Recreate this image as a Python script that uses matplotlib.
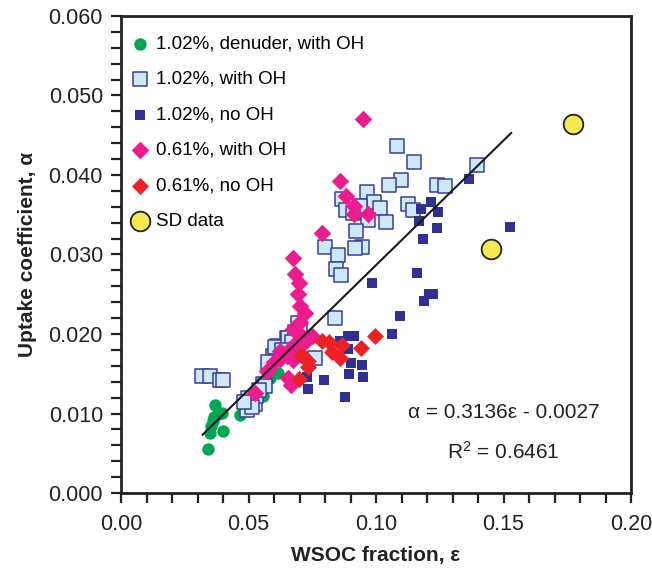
import matplotlib
matplotlib.use("Agg")
import matplotlib.pyplot as plt
from matplotlib.ticker import MultipleLocator, FormatStrFormatter

plt.rcParams["font.family"] = ["Liberation Sans", "DejaVu Sans"]
plt.rcParams["mathtext.default"] = "regular"

# 1.02%, denuder, with OH
den_x = [0.0369, 0.0395, 0.0365, 0.0353, 0.0401, 0.0349, 0.0340, 0.0467,
         0.0558, 0.0584, 0.0617, 0.0380, 0.0360]
den_y = [0.0111, 0.0101, 0.0095, 0.0084, 0.0078, 0.0075, 0.0055, 0.0098,
         0.0122, 0.0145, 0.0151, 0.0100, 0.0090]

# 1.02%, with OH
hi_oh_x = [0.0316, 0.0349, 0.0388, 0.0401, 0.0499, 0.0506, 0.0525, 0.0493,
           0.0558, 0.0597, 0.0611, 0.0650, 0.1084, 0.1149, 0.1098, 0.1050,
           0.1238, 0.1272, 0.1397, 0.0966, 0.0865, 0.0993, 0.1016, 0.0937,
           0.0881, 0.0911, 0.0967, 0.1038, 0.1127, 0.1144, 0.0922, 0.0801,
           0.0946, 0.0916, 0.0850, 0.0844, 0.0862, 0.0695, 0.0839, 0.0761,
           0.0604, 0.0565, 0.0656, 0.0702, 0.0682, 0.0670, 0.0528, 0.0540,
           0.0575, 0.0630, 0.0515, 0.0482]
hi_oh_y = [0.0147, 0.0147, 0.0142, 0.0142, 0.0120, 0.0112, 0.0112, 0.0105,
           0.0137, 0.0172, 0.0185, 0.0195, 0.0436, 0.0416, 0.0394, 0.0387,
           0.0388, 0.0386, 0.0413, 0.0379, 0.0370, 0.0366, 0.0359, 0.0361,
           0.0356, 0.0352, 0.0344, 0.0341, 0.0364, 0.0356, 0.0330, 0.0310,
           0.0310, 0.0308, 0.0299, 0.0282, 0.0274, 0.0214, 0.0220, 0.0170,
           0.0184, 0.0135, 0.0195, 0.0204, 0.0203, 0.0190, 0.0122, 0.0130,
           0.0165, 0.0180, 0.0108, 0.0115]

# 1.02%, no OH
hi_no_x = [0.1365, 0.1216, 0.1176, 0.1244, 0.1169, 0.1238, 0.1183, 0.1525,
           0.1161, 0.1225, 0.1209, 0.1187, 0.1094, 0.1062, 0.0983, 0.0891,
           0.0915, 0.0891, 0.0901, 0.0944, 0.0894, 0.0950, 0.0728, 0.0796,
           0.0735, 0.0878, 0.0859]
hi_no_y = [0.0395, 0.0366, 0.0357, 0.0354, 0.0342, 0.0333, 0.0319, 0.0335,
           0.0277, 0.0250, 0.0250, 0.0241, 0.0223, 0.0200, 0.0264, 0.0198,
           0.0198, 0.0181, 0.0164, 0.0161, 0.0150, 0.0146, 0.0146, 0.0142,
           0.0131, 0.0121, 0.0191]

# 0.61%, with OH
lo_oh_x = [0.0948, 0.0859, 0.0881, 0.0915, 0.0915, 0.0970, 0.0787, 0.0676,
           0.0682, 0.0698, 0.0693, 0.0702, 0.0722, 0.0676, 0.0709, 0.0748,
           0.0663, 0.0689, 0.0571, 0.0656, 0.0667, 0.0624, 0.0702, 0.0624,
           0.0650, 0.0676, 0.0525, 0.0578, 0.0683, 0.0720, 0.0600]
lo_oh_y = [0.0470, 0.0393, 0.0373, 0.0361, 0.0351, 0.0351, 0.0327, 0.0295,
           0.0275, 0.0264, 0.0250, 0.0235, 0.0227, 0.0206, 0.0197, 0.0197,
           0.0181, 0.0172, 0.0153, 0.0145, 0.0136, 0.0168, 0.0215, 0.0179,
           0.0172, 0.0167, 0.0126, 0.0154, 0.0187, 0.0190, 0.0165]

# 0.61%, no OH
lo_no_x = [0.0787, 0.0816, 0.0866, 0.0941, 0.0996, 0.0826, 0.0859, 0.0713,
           0.0735, 0.0735, 0.0698, 0.0706]
lo_no_y = [0.0191, 0.0190, 0.0186, 0.0182, 0.0197, 0.0177, 0.0170, 0.0172,
           0.0166, 0.0158, 0.0143, 0.0174]

# SD data
sd_x = [0.1773, 0.1450]
sd_y = [0.0464, 0.0307]

# linear fit: alpha = slope * eps + intercept
slope, intercept = 0.3136, -0.0027
fit_range = [0.032, 0.153]

fig = plt.figure(figsize=(6.52, 5.75), dpi=100)
ax = fig.add_axes([0.1856, 0.1426, 0.7822, 0.8296])

ax.scatter(den_x, den_y, s=80, marker="o", color="#00a651", linewidths=0,
           label="1.02%, denuder, with OH", zorder=3)
ax.scatter(hi_oh_x, hi_oh_y, s=88, marker="s", facecolor="#cce9f5",
           edgecolor="#3b3f98", linewidths=1.1, label="1.02%, with OH", zorder=3)
ax.scatter(hi_no_x, hi_no_y, s=46, marker="s", color="#2e3192", linewidths=0,
           label="1.02%, no OH", zorder=4)
ax.scatter(lo_oh_x, lo_oh_y, s=80, marker="D", color="#ec1c8f", linewidths=0,
           label="0.61%, with OH", zorder=4)
ax.scatter(lo_no_x, lo_no_y, s=75, marker="D", color="#ed2024", linewidths=0,
           label="0.61%, no OH", zorder=5)
ax.scatter(sd_x, sd_y, s=200, marker="o", facecolor="#f5e851",
           edgecolor="#222222", linewidths=1.3, label="SD data", zorder=5)

fx = fit_range
fy = [slope * v + intercept for v in fx]
ax.plot(fx, fy, color="#1a1a1a", linewidth=1.5, zorder=6)

ax.text(0.150, 0.0101, "\u03b1 = 0.3136\u03b5 - 0.0027", fontsize=15,
        ha="center", va="center", color="#222222")
ax.text(0.150, 0.0052, "R$^2$ = 0.6461", fontsize=15,
        ha="center", va="center", color="#222222")

ax.set_xlim(0, 0.20)
ax.set_ylim(0, 0.060)
ax.xaxis.set_major_locator(MultipleLocator(0.05))
ax.xaxis.set_minor_locator(MultipleLocator(0.01))
ax.yaxis.set_major_locator(MultipleLocator(0.01))
ax.yaxis.set_minor_locator(MultipleLocator(0.002))
ax.xaxis.set_major_formatter(FormatStrFormatter("%.2f"))
ax.yaxis.set_major_formatter(FormatStrFormatter("%.3f"))
ax.tick_params(which="both", direction="out", length=7, width=1.6,
               colors="#222222", labelsize=15.5)
ax.tick_params(axis="x", which="major", pad=8)
ax.tick_params(axis="y", which="major", pad=6)
for sp in ax.spines.values():
    sp.set_linewidth(2.0)
    sp.set_color("#222222")

ax.set_xlabel("WSOC fraction, \u03b5", fontsize=15, fontweight="bold",
              color="#222222", labelpad=8)
ax.set_ylabel("Uptake coefficient, \u03b1", fontsize=15, fontweight="bold",
              color="#222222", labelpad=8)

ax.legend(loc="upper left", bbox_to_anchor=(0.0, 0.983), frameon=False,
          fontsize=13.5, handlelength=0.8, handletextpad=0.45,
          labelspacing=0.98, borderaxespad=0.3, borderpad=0.3,
          scatterpoints=1)

fig.savefig("out.png", dpi=100)
plt.close(fig)
